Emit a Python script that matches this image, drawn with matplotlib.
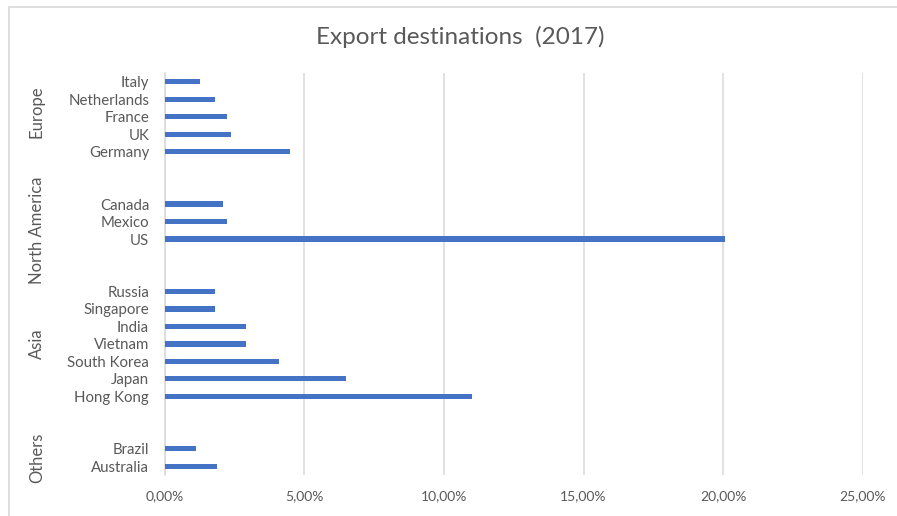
#!/usr/bin/env python3
import matplotlib
matplotlib.use("Agg")
import matplotlib.pyplot as plt
from matplotlib.patches import Rectangle
from matplotlib.ticker import FuncFormatter
from matplotlib.transforms import blended_transform_factory


# share of exports per destination, in percent
EUROPE = ["Italy", "Netherlands", "France", "UK", "Germany"]
EUROPE_VALUES = [1.27, 1.81, 2.24, 2.37, 4.49]

NORTH_AMERICA = ["Canada", "Mexico", "US"]
NORTH_AMERICA_VALUES = [2.08, 2.24, 20.05]

ASIA = ["Russia", "Singapore", "India", "Vietnam", "South Korea", "Japan", "Hong Kong"]
ASIA_VALUES = [1.82, 1.82, 2.93, 2.93, 4.10, 6.49, 11.02]

OTHERS = ["Brazil", "Australia"]
OTHERS_VALUES = [1.14, 1.89]

GROUP_NAMES = ["Europe", "North America", "Asia", "Others"]
X_TICKS = [0, 5, 10, 15, 20, 25]

TEXT_GREY = "#595959"
GRID_GREY = "#d9d9d9"
BAR_BLUE = "#4472C4"
FONT = ["Lato", "DejaVu Sans"]


def percent_label(value, _pos):
    return f"{value:.2f}%".replace(".", ",")


def main():
    groups = [
        (EUROPE, EUROPE_VALUES),
        (NORTH_AMERICA, NORTH_AMERICA_VALUES),
        (ASIA, ASIA_VALUES),
        (OTHERS, OTHERS_VALUES),
    ]

    # two empty rows between groups, like the spreadsheet layout
    labels, values, rows, group_rows = [], [], [], []
    row = 0
    for names, vals in groups:
        members = []
        for name, val in zip(names, vals):
            labels.append(name)
            values.append(val)
            rows.append(row)
            members.append(row)
            row += 1
        group_rows.append(members)
        row += 2
    n_rows = row - 2

    fig = plt.figure(figsize=(8.97, 5.16), dpi=100)
    ax = fig.add_axes([164.5 / 897, 1 - 475 / 516, (863 - 164.5) / 897, (475 - 73) / 516])

    ax.barh(rows, values, height=0.3, color=BAR_BLUE, zorder=3)
    ax.set_ylim(n_rows - 0.5, -0.5)
    ax.set_xlim(0, 25)

    ax.set_xticks(X_TICKS)
    ax.xaxis.set_major_formatter(FuncFormatter(percent_label))
    ax.set_yticks(rows)
    ax.set_yticklabels(labels)
    ax.tick_params(axis="both", length=0, labelcolor=TEXT_GREY)
    ax.tick_params(axis="x", pad=11, labelsize=10)
    ax.tick_params(axis="y", pad=11, labelsize=10.8)
    for lab in ax.get_xticklabels() + ax.get_yticklabels():
        lab.set_fontfamily(FONT)

    ax.grid(axis="x", color=GRID_GREY, linewidth=1.1, zorder=0)
    for side in ["top", "right", "bottom"]:
        ax.spines[side].set_visible(False)
    ax.spines["left"].set_color(GRID_GREY)
    ax.spines["left"].set_linewidth(1.1)

    # group names run vertically down the left margin
    group_tf = blended_transform_factory(fig.transFigure, ax.transData)
    for name, members in zip(GROUP_NAMES, group_rows):
        centre = sum(members) / len(members)
        if name == "North America":
            centre += 0.5
        elif name == "Europe":
            centre -= 0.3
        ax.text(37 / 897, centre, name, transform=group_tf, rotation=90,
                ha="center", va="center", fontsize=12, color=TEXT_GREY, family=FONT)

    fig.text(460 / 897, 1 - 37 / 516, "Export destinations  (2017)", ha="center", va="center",
             fontsize=17.5, color=TEXT_GREY, family=FONT)

    # light frame round the chart area
    fig.patches.append(Rectangle((9 / 897, -0.1), 1.1, 1 - 7 / 516 + 0.1, transform=fig.transFigure,
                                 fill=False, edgecolor=GRID_GREY, linewidth=1.2))

    fig.savefig("out.png", dpi=100)
    plt.close(fig)


if __name__ == "__main__":
    main()
